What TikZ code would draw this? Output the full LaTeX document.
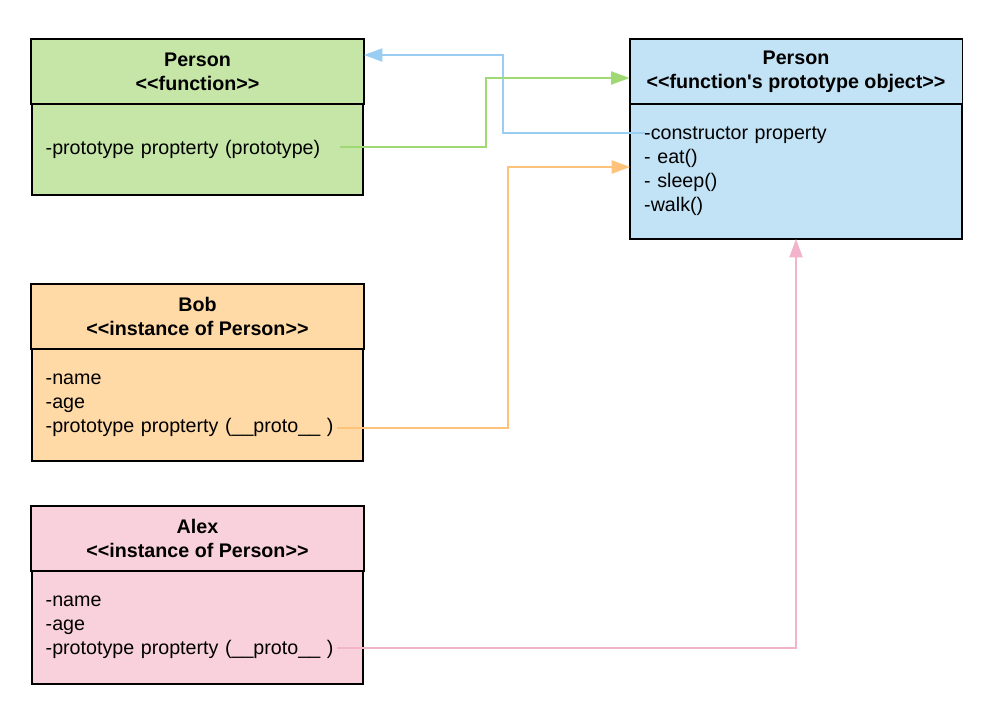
\documentclass[tikz,border=0pt]{standalone}
\usepackage{fontspec}
\setmainfont{Liberation Sans}[Ligatures=TeXOff]
\usetikzlibrary{arrows.meta,positioning}

\definecolor{fngreen}{HTML}{C6E6A8}
\definecolor{boborange}{HTML}{FFD9A6}
\definecolor{alexpink}{HTML}{F9D1DC}
\definecolor{protoblue}{HTML}{C2E3F6}
\definecolor{greenlink}{HTML}{A0D873}
\definecolor{orangelink}{HTML}{FFC27A}
\definecolor{pinklink}{HTML}{F3B3CA}
\definecolor{bluelink}{HTML}{99CDF2}

\tikzset{
	umlfont/.style={font=\fontsize{11.2}{13.6}\selectfont},
	umlhead/.style={draw, line width=1.1pt, outer sep=0pt, minimum width=6.66cm, minimum height=1.3cm, align=center, font=\fontsize{11.2}{13.6}\selectfont\bfseries},
	umlbody/.style={draw, line width=1.1pt, outer sep=0pt, text width=172.8pt, inner xsep=8pt, align=left, umlfont},
	link/.style={line width=0.9pt, -{Triangle[length=10.5pt,width=7.5pt]}}
}

\begin{document}
\begin{tikzpicture}[x=0.02cm, y=-0.02cm]
	\useasboundingbox (0,0) rectangle (1003,708);
	% the function and its prototype
	\node [umlhead, fill=fngreen]	(fnhead)	at (197.5,71.5)	{Person\\<<function>>};
	\node [umlbody, fill=fngreen, minimum height=1.82cm, below=0pt of fnhead]	(fnbody)	{-prototype propterty (prototype)};
	\node [umlhead, fill=protoblue]	(protohead)	at (796,71.5)	{Person\\<<function's prototype object>>};
	\node [umlbody, fill=protoblue, minimum height=2.7cm, below=0pt of protohead]	(protobody)	{-constructor property\\- eat()\\- sleep()\\-walk()};
	% instances
	\node [umlhead, fill=boborange]	(bobhead)	at (197.5,316.5)	{Bob\\<<instance of Person>>};
	\node [umlbody, fill=boborange, minimum height=2.24cm, below=0pt of bobhead]	(bobbody)	{-name\\-age\\-prototype propterty (\_\_proto\_\_ )};
	\node [umlhead, fill=alexpink]	(alexhead)	at (197.5,538.5)	{Alex\\<<instance of Person>>};
	\node [umlbody, fill=alexpink, minimum height=2.26cm, below=0pt of alexhead]	(alexbody)	{-name\\-age\\-prototype propterty (\_\_proto\_\_ )};

	\coordinate (fnprop)	at (340,147);
	\coordinate (ctor)	at (645,133);
	\coordinate (bobprop)	at (337,428);
	\coordinate (alexprop)	at (337,648);

	\draw [link, bluelink]	(ctor) -| (503,55) -- (fnhead.east |- 0,55);
	\draw [link, greenlink]	(fnprop) -| (486,78) -- (protohead.west |- 0,78);
	\draw [link, orangelink]	(bobprop) -| (508,167) -- (protobody.west |- 0,167);
	\draw [link, pinklink]	(alexprop) -| (protobody.south -| 796,0);
\end{tikzpicture}
\end{document}
